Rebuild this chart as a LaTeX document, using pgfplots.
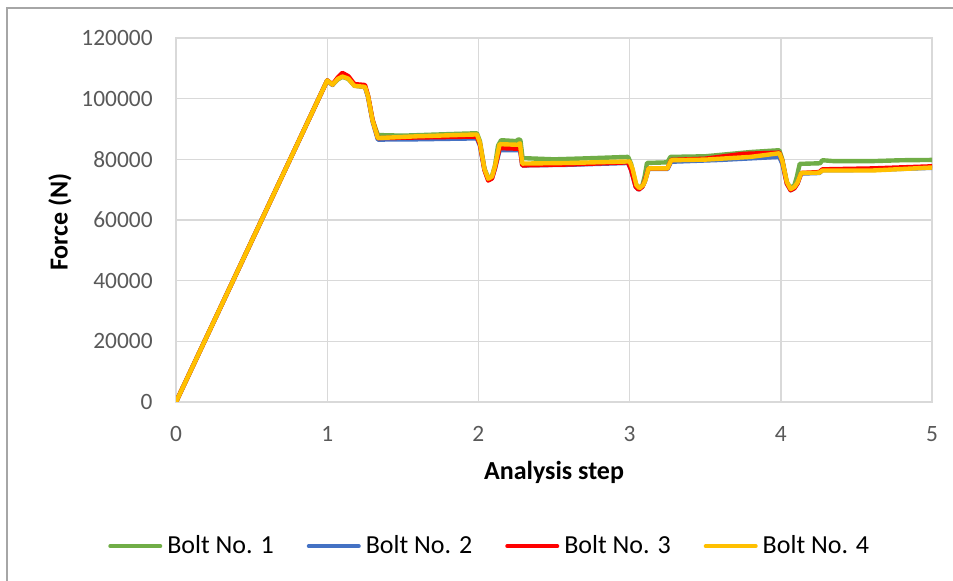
\documentclass[border=0pt]{standalone}
\usepackage{pgfplots}
\pgfplotsset{compat=1.18}
\usepackage{fontspec}
\setmainfont{Carlito}

\definecolor{boltA}{HTML}{70AD47}
\definecolor{boltB}{HTML}{4472C4}
\definecolor{boltC}{HTML}{FF0000}
\definecolor{boltD}{HTML}{FFC000}
\definecolor{gridgray}{HTML}{D9D9D9}
\definecolor{ticktext}{HTML}{595959}
\definecolor{framegray}{HTML}{A6A6A6}

\begin{document}
\begin{tikzpicture}
\useasboundingbox (0,0) rectangle (476.5pt,290.5pt);
% chart frame (top and left edges)
\draw[framegray, line width=0.6pt] (3.5pt,0pt) -- (3.5pt,286.5pt) -- (476.5pt,286.5pt);
\begin{axis}[
  at={(88pt,89.5pt)}, anchor=south west,
  width=378pt, height=182pt, scale only axis,
  xmin=0, xmax=5, ymin=0, ymax=120000,
  xtick={0,1,2,3,4,5}, ytick={0,20000,40000,60000,80000,100000,120000},
  xticklabels={0,1,2,3,4,5},
  yticklabels={0,20000,40000,60000,80000,100000,120000},
  scaled ticks=false,
  grid=major,
  major grid style={gridgray, line width=0.7pt},
  axis line style={gridgray, line width=0.7pt},
  tick style={draw=none},
  ticklabel style={font=\fontsize{11.7}{13}\selectfont, text=ticktext},
  yticklabel style={inner sep=0pt, anchor=east, xshift=-11.5pt},
  xticklabel style={inner sep=0pt, anchor=north, yshift=-12pt},
  xlabel={Analysis step}, ylabel={Force (N)},
  xlabel style={font=\fontsize{13}{15}\selectfont\bfseries, inner sep=0pt,
    anchor=center, at={([yshift=-35pt]axis description cs:0.5,0)}},
  ylabel style={font=\fontsize{13}{15}\selectfont\bfseries, inner sep=0pt,
    anchor=center, at={([xshift=-58pt,yshift=-1pt]axis description cs:0,0.5)}},
  legend columns=4,
  legend style={draw=none, fill=none, at={(0.417,-0.396)}, anchor=center,
    font=\fontsize{13}{15}\selectfont, inner sep=0pt,
    nodes={inner xsep=2.5pt, inner ysep=1pt},
    /tikz/every even column/.append style={column sep=14pt}},
  legend image code/.code={\draw[#1, line width=2pt, line cap=round] (1pt,0pt) -- (26pt,0pt);},
  every axis plot/.append style={line width=2.2pt, line join=round, line cap=round},
]
% Bolt No. 1
\addplot[boltA] coordinates {
(0,0) (1,106000) (1.035,104600) (1.07,106300) (1.10,107200) (1.14,106500)
(1.18,104300) (1.25,104000) (1.27,101000) (1.30,93000) (1.335,88000)
(1.5,87800) (1.8,88300) (1.99,88600) (2.01,86000) (2.04,77000) (2.065,73800)
(2.09,74500) (2.11,78000) (2.13,84500) (2.15,86300) (2.25,86000) (2.265,86600)
(2.278,86300) (2.292,80400) (2.5,80000) (2.7,80300) (2.99,80800) (3.01,78500)
(3.04,72000) (3.06,70500) (3.085,71500) (3.10,74500) (3.115,78800) (3.25,79000)
(3.27,80800) (3.5,81000) (3.8,82400) (3.99,83000) (4.01,80000) (4.04,72500)
(4.065,70500) (4.09,71500) (4.105,74000) (4.125,78500) (4.26,78700) (4.275,79700)
(4.35,79400) (4.6,79400) (4.8,79700) (5,79800)
};
\addlegendentry{Bolt No. 1}
% Bolt No. 2
\addplot[boltB] coordinates {
(0,0) (1,106000) (1.035,104500) (1.07,106600) (1.10,107800) (1.14,106800)
(1.18,104300) (1.25,103800) (1.27,100500) (1.30,92500) (1.335,86500)
(1.6,86600) (1.99,86900) (2.01,84500) (2.04,76500) (2.065,73200) (2.09,73800)
(2.11,77000) (2.14,83000) (2.26,83000) (2.275,83400) (2.29,78000) (2.6,78200)
(2.99,78800) (3.01,76500) (3.04,71000) (3.06,70000) (3.085,71000) (3.10,72500)
(3.125,76800) (3.25,76800) (3.275,79200) (3.6,79800) (3.99,80800) (4.01,78500)
(4.04,72000) (4.065,69800) (4.09,70500) (4.11,72000) (4.135,75300) (4.255,75500)
(4.275,76400) (4.6,76500) (5,77200)
};
\addlegendentry{Bolt No. 2}
% Bolt No. 3
\addplot[boltC] coordinates {
(0,0) (1,106000) (1.035,104700) (1.07,107000) (1.10,108500) (1.14,107400)
(1.18,104800) (1.25,104500) (1.27,101000) (1.30,93000) (1.335,87000)
(1.6,87200) (1.99,87500) (2.01,85000) (2.04,76500) (2.065,73000) (2.09,73700)
(2.11,77200) (2.14,83700) (2.26,83500) (2.275,83900) (2.29,78000) (2.6,78300)
(2.99,79000) (3.01,76500) (3.04,71000) (3.06,70000) (3.085,71000) (3.10,72800)
(3.125,77000) (3.25,77000) (3.275,79800) (3.5,80200) (3.75,81800) (3.99,82200)
(4.01,79500) (4.04,72000) (4.065,69800) (4.09,70500) (4.11,72000) (4.135,75500)
(4.255,75800) (4.275,76700) (4.6,77000) (5,77700)
};
\addlegendentry{Bolt No. 3}
% Bolt No. 4
\addplot[boltD] coordinates {
(0,0) (1,106000) (1.035,104600) (1.07,106500) (1.10,107300) (1.14,106600)
(1.18,104200) (1.25,103900) (1.27,100800) (1.30,92800) (1.335,87000)
(1.6,87600) (1.99,88200) (2.01,85500) (2.04,76800) (2.065,73600) (2.09,74300)
(2.11,77800) (2.14,85000) (2.26,84800) (2.275,85300) (2.29,78600) (2.6,78800)
(3.0,79300) (3.02,76800) (3.045,71500) (3.065,70500) (3.09,71500) (3.105,73200)
(3.125,77000) (3.25,77000) (3.275,79700) (3.5,79900) (3.8,80800) (3.99,82000)
(4.01,79500) (4.04,72500) (4.065,70200) (4.09,70900) (4.11,72300) (4.135,75500)
(4.255,75600) (4.275,76300) (4.6,76300) (5,77300)
};
\addlegendentry{Bolt No. 4}
\end{axis}
\end{tikzpicture}
\end{document}
